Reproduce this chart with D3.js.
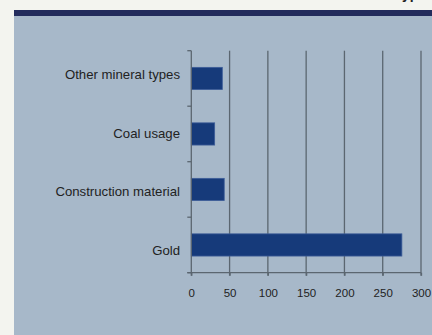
<!DOCTYPE html>
<html><head><meta charset="utf-8">
<script src="https://cdn.jsdelivr.net/npm/d3@7"></script>
<style>
html,body{margin:0;padding:0;background:#f3f4ef;overflow:hidden;}
svg{display:block;}
</style></head>
<body>
<svg id="c" width="432" height="335"></svg>
<script>
const categories = ["Other mineral types", "Coal usage", "Construction material", "Gold"];
const values = [40.5, 30.5, 43, 275];
const xTicks = [0, 50, 100, 150, 200, 250, 300];
const title = "Mineral types";

const svg = d3.select("#c");
const W = 432, H = 335;
svg.append("rect").attr("x", 14).attr("y", 16).attr("width", W - 14).attr("height", H - 16).attr("fill", "#a7b8c9");
svg.append("rect").attr("x", 14).attr("y", 10).attr("width", W - 14).attr("height", 6).attr("fill", "#232c5c");
svg.append("text").attr("x", 434).attr("y", -1).attr("text-anchor", "end")
  .attr("font-family", "Liberation Sans, Arial, sans-serif").attr("font-size", 14).attr("font-weight", "bold")
  .attr("fill", "#222").text(title);

const x0 = 191.3, x1 = 421, yTop = 50.7, yBot = 272.7;
const x = d3.scaleLinear().domain([0, 300]).range([x0, x1]);
const y = d3.scaleBand().domain(categories).range([yTop, yBot]).paddingInner(0.6).paddingOuter(0.3);
const yLabel = d3.scalePoint().domain(categories).range([74.3, 250.5]);

const gridColor = "#5b6670";
// vertical gridlines + bottom ticks
svg.append("g").selectAll("line").data(xTicks.slice(1)).join("line")
  .attr("x1", d => x(d)).attr("x2", d => x(d)).attr("y1", yTop).attr("y2", yBot + 3)
  .attr("stroke", gridColor).attr("stroke-width", 1.3);

// bars
svg.append("g").selectAll("rect").data(categories).join("rect")
  .attr("x", x(0)).attr("y", d => y(d))
  .attr("width", (d, i) => x(values[i]) - x(0)).attr("height", y.bandwidth())
  .attr("fill", "#163a7a").attr("stroke", "#3c5c98").attr("stroke-width", 0.8);

// x axis
const xAxis = d3.axisBottom(x).tickValues(xTicks).tickSize(3).tickPadding(13).tickFormat(d3.format("d"));
const gx = svg.append("g").attr("transform", `translate(0,${yBot})`).call(xAxis);
gx.select(".domain").attr("stroke", gridColor).attr("stroke-width", 1.3).attr("d", `M${x0 - 4},0H${x1}`);
gx.selectAll(".tick line").attr("stroke", gridColor).attr("stroke-width", 1.3);
gx.selectAll("text").attr("font-family", "Liberation Sans, Arial, sans-serif").attr("font-size", 11.5).attr("fill", "#222");

// y axis line and category boundary ticks
svg.append("line").attr("x1", x0).attr("x2", x0).attr("y1", yTop).attr("y2", yBot + 3)
  .attr("stroke", gridColor).attr("stroke-width", 1.3);
const bounds = categories.map(d => y(d) - y.step() * y.paddingOuter()).concat([yBot]);
svg.append("g").selectAll("line").data(bounds).join("line")
  .attr("x1", x0 - 4).attr("x2", x0).attr("y1", d => d).attr("y2", d => d)
  .attr("stroke", gridColor).attr("stroke-width", 1.3);

// category labels
svg.append("g").selectAll("text").data(categories).join("text")
  .attr("x", 180).attr("y", d => yLabel(d)).attr("dy", "0.35em")
  .attr("text-anchor", "end").attr("font-family", "Liberation Sans, Arial, sans-serif")
  .attr("font-size", 13.2).attr("fill", "#222").text(d => d);
</script>
</body></html>
